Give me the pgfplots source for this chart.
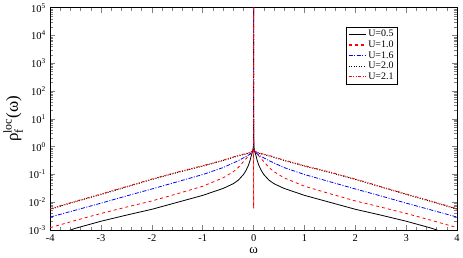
\documentclass[border=0pt]{standalone}
\usepackage{amsmath}
\usepackage{fontspec}
\setmainfont{Liberation Serif}
\usepackage{pgfplots}
\pgfplotsset{compat=1.18}
\begin{document}
\begin{tikzpicture}
\begin{axis}[
  scale only axis,
  width=408pt, height=223pt,
  xmin=-4, xmax=4,
  ymode=log, ymin=1e-3, ymax=1e5,
  xtick={-4,-3,-2,-1,0,1,2,3,4},
  xticklabels={-4,-3,-2,-1,0,1,2,3,4},
  minor x tick num=4,
  ytick={1e-3,1e-2,1e-1,1,1e1,1e2,1e3,1e4,1e5},
  yticklabels={10\textsuperscript{-3},10\textsuperscript{-2},10\textsuperscript{-1},10\textsuperscript{0},10\textsuperscript{1},10\textsuperscript{2},10\textsuperscript{3},10\textsuperscript{4},10\textsuperscript{5}},
  tick align=inside,
  xtick pos=both, ytick pos=both,
  xticklabel pos=left, yticklabel pos=left,
  major tick length=5pt, minor tick length=3pt,
  tick style={line width=0.6pt},
  axis line style={line width=0.8pt},
  ticklabel style={font=\fontsize{10.5}{12}\selectfont},
  xticklabel style={yshift=-1pt},
  yticklabel style={xshift=-1pt},
  xlabel={ω},
  xlabel style={font=\fontsize{13}{14}\selectfont, yshift=1pt},
  ylabel={$\text{ρ}_{\text{f}}^{\text{loc}}\text{(ω)}$},
  ylabel style={font=\fontsize{17}{19}\selectfont, yshift=-1pt},
  legend style={at={(0.853,0.915)}, anchor=north east,
    font=\fontsize{10}{11}\selectfont, inner sep=1.5pt, row sep=-1.5pt},
  legend cell align=left,
  legend image post style={line width=1.1pt},
  every axis plot/.append style={line width=0.8pt},
  clip=true,
]
% U=0.5
\addplot[color=black, solid] coordinates {
(-4,5.6e-4) (-3.5,1.17e-3) (-3,2.09e-3) (-2.5,3.47e-3) (-2,5.62e-3) (-1.5,1.0e-2) (-1,1.78e-2)
(-0.6,3.16e-2) (-0.4,4.68e-2) (-0.3,6.3e-2) (-0.2,0.1) (-0.15,0.14) (-0.1,0.22) (-0.07,0.32) (-0.05,0.45) (-0.03,0.6) (-0.015,0.75) (-0.005,1.0) (0,10)
(0.005,1.0) (0.015,0.75) (0.03,0.6) (0.05,0.45) (0.07,0.32) (0.1,0.22) (0.15,0.14) (0.2,0.1) (0.3,6.3e-2) (0.4,4.68e-2) (0.6,3.16e-2)
(1,1.78e-2) (1.5,1.0e-2) (2,5.62e-3) (2.5,3.47e-3) (3,2.09e-3) (3.5,1.17e-3) (4,5.6e-4)
};
\addlegendentry{U=0.5}
% U=1.0
\addplot[color=red, dashed] coordinates {
(-4,1.23e-3) (-3.5,2.24e-3) (-3,3.98e-3) (-2.5,6.76e-3) (-2,1.12e-2) (-1.5,2.04e-2) (-1,3.80e-2)
(-0.6,7.59e-2) (-0.4,0.126) (-0.3,0.18) (-0.2,0.29) (-0.1,0.47) (-0.05,0.58) (-0.02,0.66) (-0.004,0.794) (0,6.0e-3)
(0.004,0.794) (0.02,0.66) (0.05,0.58) (0.1,0.47) (0.2,0.29) (0.3,0.18) (0.4,0.126) (0.6,7.59e-2)
(1,3.80e-2) (1.5,2.04e-2) (2,1.12e-2) (2.5,6.76e-3) (3,3.98e-3) (3.5,2.24e-3) (4,1.23e-3)
};
\addlegendentry{U=1.0}
% U=1.6
\addplot[color=blue, dash pattern=on 4pt off 1.5pt on 1pt off 1.5pt] coordinates {
(-4,2.95e-3) (-3.5,5.25e-3) (-3,9.33e-3) (-2.5,1.70e-2) (-2,3.02e-2) (-1.5,5.50e-2) (-1,0.1)
(-0.6,0.178) (-0.3,0.316) (-0.1,0.501) (-0.03,0.631) (-0.004,0.89) (0,1e6)
(0.004,0.89) (0.03,0.631) (0.1,0.501) (0.3,0.316) (0.6,0.178)
(1,0.1) (1.5,5.50e-2) (2,3.02e-2) (2.5,1.70e-2) (3,9.33e-3) (3.5,5.25e-3) (4,2.95e-3)
};
\addlegendentry{U=1.6}
% U=2.0
\addplot[color=black, dash pattern=on 1pt off 1.5pt] coordinates {
(-4,5.62e-3) (-3.5,1.05e-2) (-3,1.91e-2) (-2.5,3.55e-2) (-2,6.61e-2) (-1.5,0.1175) (-1,0.1995)
(-0.6,0.316) (-0.3,0.468) (-0.1,0.575) (-0.03,0.661) (-0.004,0.794) (0,1e6)
(0.004,0.794) (0.03,0.661) (0.1,0.575) (0.3,0.468) (0.6,0.316)
(1,0.1995) (1.5,0.1175) (2,6.61e-2) (2.5,3.55e-2) (3,1.91e-2) (3.5,1.05e-2) (4,5.62e-3)
};
\addlegendentry{U=2.0}
% U=2.1
\addplot[color=red, dash pattern=on 3pt off 1.5pt on 1pt off 1.5pt on 1pt off 1.5pt] coordinates {
(-4,5.9e-3) (-3.5,1.1e-2) (-3,2.0e-2) (-2.5,3.7e-2) (-2,6.9e-2) (-1.5,0.123) (-1,0.209)
(-0.6,0.33) (-0.3,0.49) (-0.1,0.60) (-0.03,0.69) (-0.004,0.83) (0,1e6)
(0.004,0.83) (0.03,0.69) (0.1,0.60) (0.3,0.49) (0.6,0.33)
(1,0.209) (1.5,0.123) (2,6.9e-2) (2.5,3.7e-2) (3,2.0e-2) (3.5,1.1e-2) (4,5.9e-3)
};
\addlegendentry{U=2.1}
\end{axis}
\end{tikzpicture}
\end{document}
